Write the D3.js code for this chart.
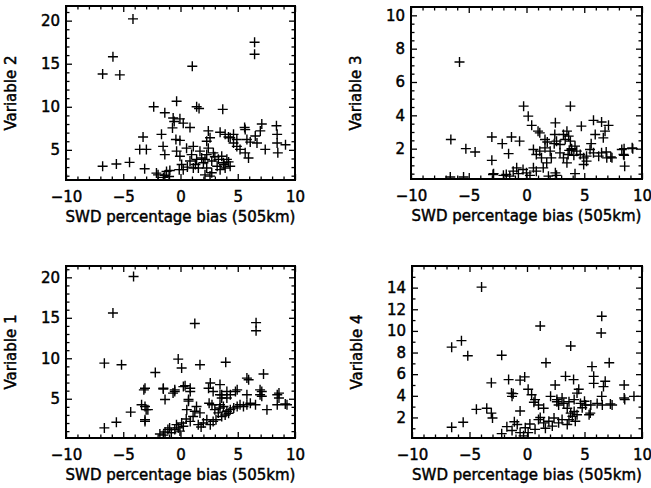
<!DOCTYPE html>
<html>
<head>
<meta charset="utf-8">
<script src="https://cdn.jsdelivr.net/npm/d3@7"></script>
<style>
  body { margin: 0; background: #fff; }
  svg { display: block; }
  text { font-family: "DejaVu Sans", sans-serif; fill: #000; stroke: #000; stroke-width: 0.45px; }
</style>
</head>
<body>
<svg width="651" height="488"></svg>
<script>
// SWD percentage bias (x) against each variable (y)
var variable2 = [[-4.15,20.2],[-5.9,15.8],[-6.8,13.8],[-5.3,13.7],[6.47,17.5],[6.47,16.1],[1.03,14.7],
  [-0.34,10.65],[-2.34,10.0],[1.41,10.0],[1.62,9.8],[3.69,9.7],[-1.37,9.3],[-0.64,8.7],[-0.55,8.3],[-0.05,8.6],
  [0.24,8.1],[0.83,7.6],[-0.7,7.55],[5.6,7.6],[7.1,8.0],[6.97,7.2],[8.38,7.8],[8.44,6.8],
  [-3.27,6.5],[-1.66,6.8],[-0.4,6.2],[-0.05,6.1],[2.43,7.2],[2.58,6.4],[2.29,6.0],[3.46,7.05],[3.9,6.8],[4.19,6.5],
  [4.63,6.8],[4.92,6.2],[5.65,7.35],[5.8,6.2],[6.09,5.9],[6.68,5.8],[6.53,6.6],[8.44,5.8],[9.17,5.6],[8.5,4.65],
  [7.4,5.05],[-3.56,5.05],[-2.98,5.05],[-1.52,5.4],[-1.37,4.45],[4.34,6.4],
  [-3.13,2.8],[-0.34,4.85],[-0.05,4.25],[0.1,3.3],[-0.11,2.7],[-1.96,2.1],[-1.37,2.05],[-0.93,2.6],[0.53,5.2],
  [1.12,5.4],[0.97,4.45],[0.83,3.7],[1.12,2.9],[1.7,4.85],[1.85,4.05],[2.0,3.5],[2.29,2.9],[2.73,2.35],[2.43,5.2],
  [2.87,4.65],[3.31,3.9],[3.6,4.25],[3.75,3.5],[4.05,3.9],[3.9,2.9],[4.34,3.1],[3.46,2.7],[4.63,5.8],[4.92,5.4],
  [5.2,5.05],[5.65,4.65],[5.94,4.05],[2.29,4.45],[2.14,3.9],[2.73,3.7],[1.41,3.9],[1.56,2.9],[0.24,2.7],[2.14,2.1],
  [2.58,1.95],[-6.8,3.1],[-5.6,3.35],[-4.45,3.55],[-2.1,2.3],[-1.22,2.5],[-1.5,1.8],[-1.0,1.9],[3.0,4.2],[3.8,3.3],
  [4.2,3.6],[3.2,3.1],[1.3,3.3],[0.6,3.0]];

var variable3 = [[-5.8,7.2],[-6.55,2.55],[-5.25,2.0],[-4.45,1.8],[-3.0,2.7],[-3.0,1.3],[-2.1,2.3],[-1.3,2.7],
  [-1.55,1.7],[-0.6,2.45],[-0.25,4.55],[0.15,3.95],[0.45,3.4],[1.0,3.05],[1.15,2.95],[1.6,2.55],[2.5,3.55],
  [3.8,4.55],[3.5,3.05],[3.2,2.85],[3.65,2.75],[3.35,2.55],[3.8,2.45],[4.75,3.35],[5.8,3.7],[6.5,3.6],[7.1,3.4],
  [6.8,3.05],[6.65,2.65],[5.95,2.85],[5.6,2.3],[8.45,2.0],[8.45,1.6],[8.5,0.95],[9.2,2.0],[7.3,1.5],[6.9,1.8],
  [-6.6,0.3],[-5.45,0.3],[-2.85,0.5],[-2.0,0.4],[0.6,1.95],[0.85,1.65],[1.15,1.85],[1.6,2.05],[2.05,1.85],
  [2.15,1.45],[1.75,1.15],[1.45,0.85],[1.3,1.45],[2.9,1.75],[3.2,1.45],[3.6,1.65],[3.9,1.95],[4.2,2.15],
  [4.35,1.85],[4.65,1.65],[4.95,1.45],[5.2,1.55],[5.2,1.25],[5.5,1.95],[5.8,1.75],[6.25,1.55],[6.5,1.75],
  [6.95,1.45],[7.4,1.45],[8.25,1.95],[8.4,1.65],[9.15,2.05],[2.45,2.85],[2.6,2.45],[2.9,2.25],[3.5,1.15],
  [4.2,0.5],[4.95,1.05],[-1.75,0.45],[-1.15,0.65],[-0.7,0.5],[-0.3,0.75],[0.0,0.55],[0.3,0.4],[0.6,0.85],
  [0.85,0.65],[-0.85,0.85],[-1.45,0.35],[1.9,0.35],[2.6,0.4],[-2.9,0.45],[1.8,2.4],[2.4,2.3],[3.9,2.0],
  [4.1,1.6],[3.7,1.9],[2.5,0.55]];

var variable1 = [[-4.1,20.1],[-5.9,15.6],[1.25,14.3],[6.6,14.4],[6.6,13.4],[-6.65,9.4],[-5.15,9.2],[-0.2,9.9],
  [0.1,8.8],[1.7,9.2],[3.95,9.5],[-2.2,8.25],[7.25,8.05],[-3.2,6.1],[-1.5,6.2],[-1.35,4.9],[-0.5,5.9],[0.4,6.6],
  [0.85,5.9],[0.7,4.9],[0.55,3.65],[-3.4,4.25],[-3.0,3.65],[-3.1,2.4],[-4.35,3.35],[-5.6,2.1],[-6.65,1.4],
  [2.6,6.95],[2.85,5.9],[3.45,5.5],[3.6,5.1],[4.05,5.1],[4.35,5.5],[4.8,5.9],[2.5,4.45],[3.45,4.25],[5.8,7.55],
  [5.95,7.35],[5.8,5.5],[6.95,5.5],[7.1,5.9],[8.6,5.7],[8.6,5.1],[8.45,4.25],[9.15,4.35],[7.55,3.65],
  [-1.8,0.65],[-1.35,0.9],[-1.1,1.2],[-0.8,0.8],[-0.5,1.2],[-0.2,1.4],[-0.05,1.0],[0.25,1.6],[0.1,2.0],
  [-0.35,1.8],[-0.95,1.4],[0.85,2.2],[1.1,2.8],[1.25,3.45],[1.4,4.05],[1.7,3.25],[1.55,1.8],[2.0,2.0],[2.3,2.4],
  [2.6,1.8],[2.85,2.2],[2.75,4.25],[3.0,3.65],[3.3,3.25],[3.6,2.8],[3.9,3.0],[4.05,3.45],[3.75,4.05],[3.45,3.85],
  [4.35,3.65],[4.65,3.85],[4.95,4.05],[5.2,4.25],[5.5,4.05],[5.8,4.25],[6.1,4.45],[6.55,4.25],[2.45,6.3],
  [3.45,6.75],[3.6,5.5],[4.05,5.9],[4.95,6.1],[6.95,6.1],[7.1,5.3],[-3.1,6.3],[-3.1,4.05],[-2.85,3.65],
  [-3.1,2.2],[-1.5,6.3],[-0.65,5.7],[-0.5,6.1],[0.25,6.5],[0.85,6.3],[0.7,4.7],[8.45,5.5],[9.3,4.25],
  [-1.5,0.5],[0.5,2.5],[1.8,1.5],[3.1,2.4],[4.2,3.2]];

var variable4 = [[-3.95,14.05],[6.5,11.35],[6.45,9.8],[1.15,10.45],[3.8,8.6],[-6.55,8.5],[-5.7,9.1],[-5.15,7.7],
  [-2.2,7.75],[1.65,7.05],[7.15,7.05],[5.65,6.7],[5.8,5.8],[5.8,5.15],[6.8,5.35],[6.65,4.85],[8.45,5.0],
  [8.45,3.8],[9.3,3.95],[8.5,3.65],[6.5,3.95],[7.25,3.25],[5.5,2.4],[-3.1,5.2],[-3.5,2.85],[-3.1,2.4],
  [-3.0,1.95],[-4.4,2.75],[-5.55,1.55],[-6.55,1.1],[-1.6,5.5],[-1.35,4.25],[-1.2,4.2],[-0.6,5.45],[-0.2,5.75],
  [-0.6,2.6],[0.1,4.6],[0.4,4.1],[0.6,3.4],[1.0,3.15],[1.45,2.85],[2.45,5.0],[2.6,3.65],[3.05,3.8],[3.35,5.8],
  [4.05,5.5],[4.35,4.25],[4.5,4.6],[-1.3,3.95],[0.7,3.65],[2.05,3.95],[2.6,3.45],[2.75,3.15],[3.2,3.3],
  [3.65,3.45],[4.1,3.65],[4.65,3.3],[5.1,3.15],[5.55,3.15],[6.1,3.3],[6.55,3.15],[7.4,3.15],[3.5,2.85],
  [3.8,2.4],[3.95,2.1],[3.65,1.8],[4.2,1.65],[4.1,2.55],[3.5,1.35],[4.35,2.25],[1.0,1.8],[1.45,1.5],[1.9,1.65],
  [2.35,1.95],[2.75,1.5],[1.6,1.0],[2.2,1.2],[3.05,1.8],[5.4,2.25],[-1.75,1.15],[-1.3,0.8],[-0.85,1.35],
  [-0.6,0.6],[-0.15,1.05],[0.25,1.4],[0.7,0.9],[-1.1,1.6],[0.1,0.6],[1.15,2.0],[-2.2,0.5],[-0.3,0.3],
  [4.8,2.9],[5.0,3.5]];

var xTicks = [-10, -5, 0, 5, 10];
var yTicksA = [5, 10, 15, 20];
var yTicks3 = [2, 4, 6, 8, 10];
var yTicks4 = [2, 4, 6, 8, 10, 12, 14];
var xTitle = "SWD percentage bias (505km)";

var panels = [
  {data: variable2, label: "Variable 2", box: [66, 6, 295, 180], y: [1.5, 21.7], ticks: yTicksA, minor: 1},
  {data: variable3, label: "Variable 3", box: [411, 7, 642, 179], y: [0.18, 10.5], ticks: yTicks3, minor: 0.5},
  {data: variable1, label: "Variable 1", box: [66, 266, 295, 438], y: [0.15, 21.4], ticks: yTicksA, minor: 1},
  {data: variable4, label: "Variable 4", box: [412, 266, 642, 438], y: [0.1, 16], ticks: yTicks4, minor: 1}
];

var svg = d3.select("svg");

panels.forEach(function(p, i) {
  var x0 = p.box[0], y0 = p.box[1], w = p.box[2] - p.box[0], h = p.box[3] - p.box[1];
  var g = svg.append("g").attr("transform", "translate(" + x0 + "," + y0 + ")");

  var x = d3.scaleLinear().domain([-10, 10]).range([0, w]);
  var y = d3.scaleLinear().domain(p.y).range([h, 0]);

  var xMinor = d3.range(-10, 10.01, 1).filter(function(v) { return v % 5 != 0; });
  var yMinor = d3.range(Math.ceil(p.y[0] / p.minor) * p.minor, p.y[1], p.minor)
    .filter(function(v) { return p.ticks.indexOf(+v.toFixed(2)) < 0; });

  g.append("clipPath").attr("id", "clip" + i)
    .append("rect").attr("width", w).attr("height", h);

  // points
  g.append("g").attr("clip-path", "url(#clip" + i + ")")
    .selectAll("path").data(p.data).enter().append("path")
    .attr("transform", function(d) { return "translate(" + x(d[0]) + "," + y(d[1]) + ")"; })
    .attr("d", "M-5,0H5M0,-5V5")
    .attr("stroke", "#000").attr("stroke-width", 1.4).attr("fill", "none");

  // ticks point inward on all four sides, labels only bottom and left
  var bottom = g.append("g").attr("transform", "translate(0," + h + ")")
    .call(d3.axisBottom(x).tickValues(xTicks).tickSize(-6).tickPadding(11)
      .tickFormat(function(d) { return d < 0 ? "\u2212" + (-d) : d; }));
  bottom.append("g").call(d3.axisBottom(x).tickValues(xMinor).tickSize(-3.5).tickFormat(""));

  var top = g.append("g")
    .call(d3.axisTop(x).tickValues(xTicks).tickSize(-6).tickFormat(""));
  top.append("g").call(d3.axisTop(x).tickValues(xMinor).tickSize(-3.5).tickFormat(""));

  var left = g.append("g")
    .call(d3.axisLeft(y).tickValues(p.ticks).tickSize(-6).tickPadding(6));
  left.append("g").call(d3.axisLeft(y).tickValues(yMinor).tickSize(-3.5).tickFormat(""));

  var right = g.append("g").attr("transform", "translate(" + w + ",0)")
    .call(d3.axisRight(y).tickValues(p.ticks).tickSize(-6).tickFormat(""));
  right.append("g").call(d3.axisRight(y).tickValues(yMinor).tickSize(-3.5).tickFormat(""));

  g.selectAll(".domain").remove();
  g.selectAll(".tick line").attr("stroke", "#000").attr("stroke-width", 1.3);
  g.selectAll(".tick text").style("font-family", "DejaVu Sans").style("font-size", "15px").attr("fill", "#000");

  g.append("rect").attr("width", w).attr("height", h)
    .attr("fill", "none").attr("stroke", "#000").attr("stroke-width", 2);

  g.append("text").attr("x", w / 2).attr("y", h + 42)
    .attr("text-anchor", "middle").style("font-size", "15px")
    .text(xTitle);

  g.append("text")
    .attr("transform", "translate(" + (-50) + "," + (h / 2) + ") rotate(-90)")
    .attr("text-anchor", "middle").style("font-size", "15px")
    .text(p.label);
});
</script>
</body>
</html>
